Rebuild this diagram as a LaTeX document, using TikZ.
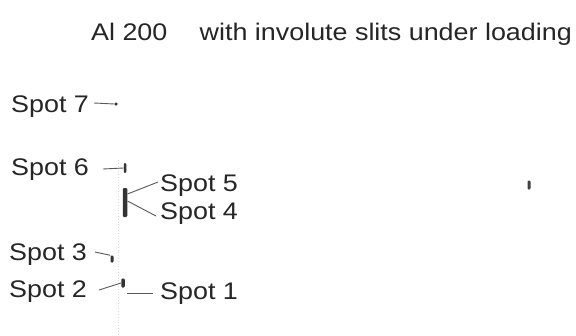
\documentclass[tikz,border=0pt]{standalone}
\usepackage{fontspec}
\setmainfont[FakeStretch=1.12]{Liberation Sans}
\begin{document}
\begin{tikzpicture}[x=1pt,y=-1pt,
  lbl/.style={inner sep=0pt,anchor=base west,text=black!85,font=\fontsize{24}{28}\selectfont},
  lead/.style={draw=black!65,line width=0.9pt},
  spotmark/.style={fill=black!80,draw=none,inner sep=0pt,shape=rectangle,rounded corners=1.2pt},
  trace/.style={draw=black!14,dotted,line width=0.8pt}]
\useasboundingbox[fill=white] (0,0) rectangle (576,335);
% title
\node[lbl] (t1) at (91,40) {Al 200};
\node[lbl,anchor=base east] (t2) at (572,40) {with involute slits under loading};
% faint trace
\coordinate (tr1) at (118,160);
\coordinate (tr2) at (118,335);
\draw[trace] (tr1) -- (tr2);
% labels
\node[lbl] (s7) at (11,112) {Spot 7};
\node[lbl] (s6) at (11,175) {Spot 6};
\node[lbl] (s5) at (160,191) {Spot 5};
\node[lbl] (s4) at (160,219) {Spot 4};
\node[lbl] (s3) at (9,260) {Spot 3};
\node[lbl] (s2) at (9,297) {Spot 2};
\node[lbl] (s1) at (160,299) {Spot 1};
% spot marks
\node[spotmark,minimum width=3pt,minimum height=3pt] (m7) at (116,104) {};
\node[spotmark,minimum width=2.5pt,minimum height=10pt] (m6) at (125,168) {};
\node[spotmark,minimum width=4.5pt,minimum height=29pt] (m54) at (125,202.5) {};
\node[spotmark,minimum width=3pt,minimum height=7pt] (m3) at (112,259) {};
\node[spotmark,minimum width=3.5pt,minimum height=9pt] (m2) at (123,283) {};
\node[spotmark,minimum width=3pt,minimum height=9pt,fill=black!75] (mr) at (529,185) {};
% leader start points
\coordinate (a7) at (94,103);
\coordinate (a6) at (103,169);
\coordinate (a5) at (158,182);
\coordinate (b5) at (127.5,194);
\coordinate (a4) at (156,216);
\coordinate (b4) at (127.5,201);
\coordinate (a3) at (95,252);
\coordinate (a2) at (99,290);
\coordinate (a1) at (153,293);
\coordinate (b1) at (127,293);
% leaders
\draw[lead] (a7) -- (m7.west);
\draw[lead] (a6) -- (m6.west);
\draw[lead] (a5) -- (b5);
\draw[lead] (a4) -- (b4);
\draw[lead] (a3) -- (m3.north west);
\draw[lead] (a2) -- (m2.west);
\draw[lead] (a1) -- (b1);
\end{tikzpicture}
\end{document}
